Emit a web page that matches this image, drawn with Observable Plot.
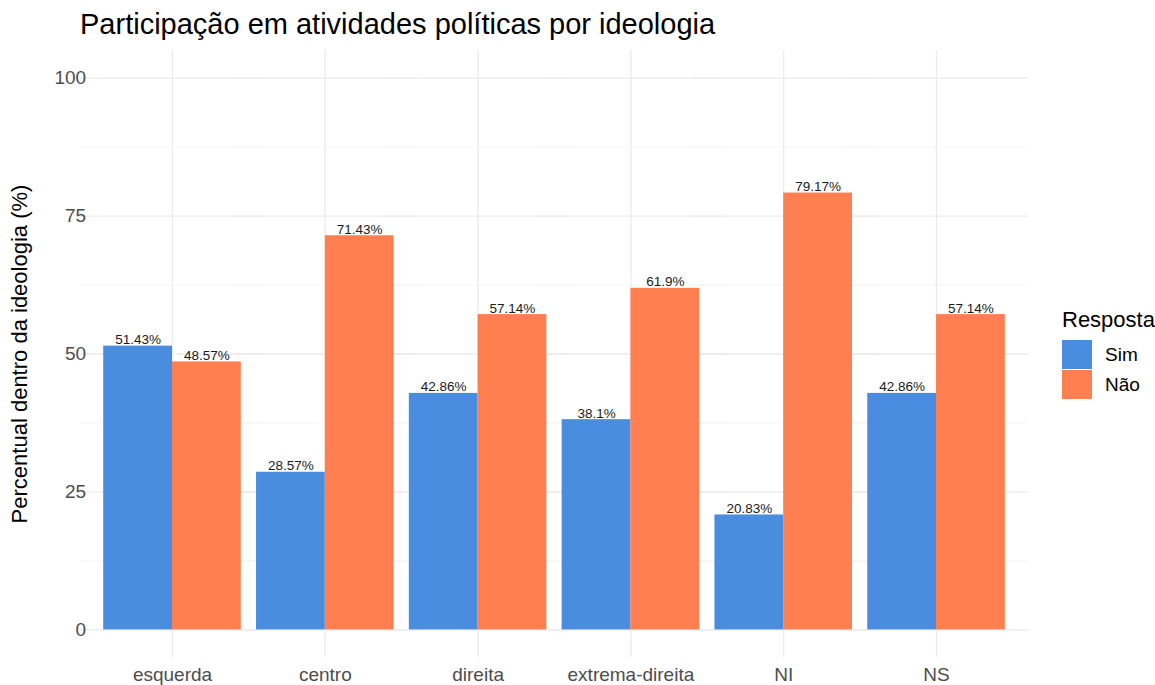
<!DOCTYPE html>
<html>
<head>
<meta charset="utf-8">
<script src="https://cdn.jsdelivr.net/npm/d3@7"></script>
<script src="https://cdn.jsdelivr.net/npm/@observablehq/plot@0.6"></script>
<style>
  html, body { margin: 0; padding: 0; background: #fff; overflow: hidden; }
  #wrap { position: relative; width: 1155px; height: 685px; font-family: "Liberation Sans", Arial, sans-serif; }
  #title { height: 46px; box-sizing: border-box; padding: 8px 0 0 80px; font-size: 29px; line-height: normal; color: #000; white-space: nowrap; }
  #legend { position: absolute; left: 1062px; top: 309px; color: #000; }
  #legend .lt { font-size: 22px; line-height: 22px; margin-bottom: 9px; }
  #legend .row { display: flex; align-items: center; height: 30px; }
  #legend .sw { width: 30px; height: 29px; margin-bottom: 1px; }
  #legend .lab { font-size: 19px; margin-left: 13px; }
  g[aria-label="y-axis label"] text { font-size: 22px; fill: #000; }
</style>
</head>
<body>
<div id="wrap">
  <div id="title">Participação em atividades políticas por ideologia</div>
  <div id="chart"></div>
  <div id="legend"></div>
</div>
<script>
const categories = ["esquerda", "centro", "direita", "extrema-direita", "NI", "NS"];
const respostas = ["Sim", "Não"];
const simValues = [51.43, 28.57, 42.86, 38.1, 20.83, 42.86];
const naoValues = [48.57, 71.43, 57.14, 61.9, 79.17, 57.14];
const yTicks = [0, 25, 50, 75, 100];
const yMinorTicks = [12.5, 37.5, 62.5, 87.5];
const colors = ["#4A8CDD", "#FF7F50"];
const yLabel = "Percentual dentro da ideologia (%)";
const legendTitle = "Resposta";

const data = [];
categories.forEach((c, i) => {
  data.push({ideologia: c, resposta: "Sim", valor: simValues[i]});
  data.push({ideologia: c, resposta: "Não", valor: naoValues[i]});
});

const chart = Plot.plot({
  width: 1155,
  height: 639,
  marginLeft: 80,
  marginRight: 127,
  marginTop: 4,
  marginBottom: 28,
  style: {fontFamily: "'Liberation Sans', Arial, sans-serif", background: "white", overflow: "visible"},
  fx: {domain: categories, paddingInner: 0, paddingOuter: 0.102, round: false, label: null},
  x: {domain: respostas, paddingInner: 0, paddingOuter: 0.111, round: false, axis: null},
  y: {domain: [-5, 105]},
  color: {domain: respostas, range: colors},
  marks: [
    Plot.ruleY(yMinorTicks, {stroke: "#F1F1F1", strokeWidth: 0.8, insetLeft: -16, insetRight: -16}),
    Plot.ruleY(yTicks, {stroke: "#EBEBEB", strokeWidth: 1.3, insetLeft: -16, insetRight: -16}),
    Plot.gridFx({stroke: "#EBEBEB", strokeOpacity: 1, strokeWidth: 1.3}),
    Plot.barY(data, {fx: "ideologia", x: "resposta", y: "valor", fill: "resposta"}),
    Plot.text(data, {fx: "ideologia", x: "resposta", y: "valor", text: d => d.valor + "%",
      lineAnchor: "bottom", dy: -2, fontSize: 13.5, fill: "#1a1a1a"}),
    Plot.axisY({ticks: yTicks, tickSize: 0, tickPadding: 10, fontSize: 19, color: "#4D4D4D",
      label: yLabel, labelAnchor: "center", labelOffset: 85, labelArrow: "none"}),
    Plot.axisFx({anchor: "bottom", tickSize: 0, tickPadding: 10, fontSize: 19, color: "#4D4D4D", label: null})
  ]
});
document.getElementById("chart").appendChild(chart);

const legend = document.getElementById("legend");
const lt = document.createElement("div");
lt.className = "lt";
lt.textContent = legendTitle;
legend.appendChild(lt);
respostas.forEach((r, i) => {
  const row = document.createElement("div");
  row.className = "row";
  const sw = document.createElement("div");
  sw.className = "sw";
  sw.style.background = colors[i];
  const lab = document.createElement("span");
  lab.className = "lab";
  lab.textContent = r;
  row.appendChild(sw);
  row.appendChild(lab);
  legend.appendChild(row);
});
</script>
</body>
</html>
